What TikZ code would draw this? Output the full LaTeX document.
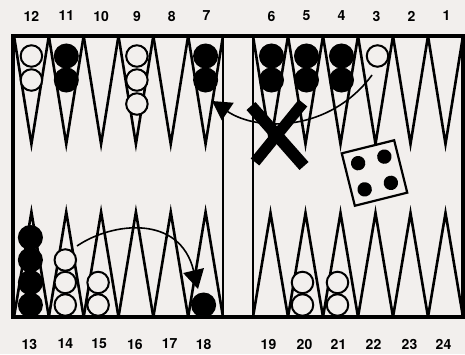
\documentclass[tikz,border=0pt]{standalone}
\usepackage{fontspec}
\setmainfont{TeX Gyre Heros}
\usetikzlibrary{arrows.meta}
\definecolor{paper}{RGB}{242,239,237}
\tikzset{
  man/.style={circle, draw, line width=2pt, minimum size=21.5pt, inner sep=0pt},
  wman/.style={man, fill=paper},
  bman/.style={man, fill=black, minimum size=23pt},
  pointnum/.style={font=\fontsize{14}{16}\selectfont\bfseries},
  spike/.style={line width=2.6pt, line join=miter},
  move/.style={line width=1.6pt, -{Triangle[length=19pt,width=21pt]}},
}
\begin{document}
\begin{tikzpicture}[x=1pt,y=-1pt]
    \useasboundingbox[fill=paper] (0,0) rectangle (465,354);
    % the points
    \foreach \i in {0,...,5} {
        \pgfmathsetmacro{\xl}{14+34.83*\i}
        \pgfmathsetmacro{\xr}{253+35*\i}
        \draw[spike] (\xl,36) -- (\xl+17.42,144) -- (\xl+34.83,36);
        \draw[spike] (\xr,36) -- (\xr+17.5,144) -- (\xr+35,36);
        \draw[spike] (\xl,317) -- (\xl+17.42,212) -- (\xl+34.83,317);
        \draw[spike] (\xr,317) -- (\xr+17.5,213) -- (\xr+35,317);
    }
    \draw[line width=2.4pt] (223,36) -- (223,317);
    \draw[line width=2.4pt] (253,36) -- (253,317);
    % point numbers
    \foreach \n/\x in {12/31.4, 11/66.3, 10/101.1, 9/136.9, 8/171.7, 7/206.6,
                       6/271.5, 5/306.5, 4/341.5, 3/376.5, 2/411.5, 1/446.5}
        \node[pointnum] (p\n) at (\x,16) {\n};
    \foreach \n/\x in {13/29.4, 14/65.3, 15/99.1, 16/134.9, 17/169.7, 18/203.6,
                       19/268.5, 20/304.5, 21/338.5, 22/373.5, 23/409.5, 24/443.5}
        \node[pointnum] (p\n) at (\x,344) {\n};
    % men, top
    \foreach \n/\x/\k/\s in {12/31.4/2/w, 11/66.3/2/b, 9/136.9/3/w, 7/205.6/2/b,
                             6/271.5/2/b, 5/306.5/2/b, 4/341.5/2/b, 3/377.5/1/w}
        \foreach \r in {1,...,\k}
            \node[\s man] (m\n-\r) at (\x,{56+24*(\r-1)}) {};
    % men, bottom
    \foreach \n/\x/\k/\s in {13/30.4/4/b, 14/65.3/3/w, 15/98.1/2/w, 18/203.6/1/b,
                             20/302.5/2/w, 21/337.5/2/w}
        \foreach \r in {1,...,\k}
            \node[\s man] (m\n-\r) at (\x,{305-22.5*(\r-1)}) {};
    % the moves
    \coordinate (from3) at (372,75);
    \coordinate (to7) at (212,101);
    \coordinate (from14) at (77,246);
    \coordinate (to18) at (198,289);
    \draw[move] (from3) .. controls (330,132) and (258,132) .. (to7);
    \draw[move] (from14) .. controls (112,222) and (180,214) .. (to18);
    % the cross
    \draw[line width=12pt] (251,106) -- (304,166);
    \draw[line width=11pt] (303,103) -- (255,162);
    % the die
    \begin{scope}[shift={(374.5,173)}, rotate=14]
        \draw[line width=2.2pt, fill=paper] (-27,-27) rectangle (27,27);
        \foreach \a/\b in {-13.5/-13.5, 13.5/-13.5, -13.5/13.5, 13.5/13.5}
            \fill (\a,\b) circle (7.2);
    \end{scope}
    \draw[line width=4pt] (13,36) rectangle (463,317);
\end{tikzpicture}
\end{document}
